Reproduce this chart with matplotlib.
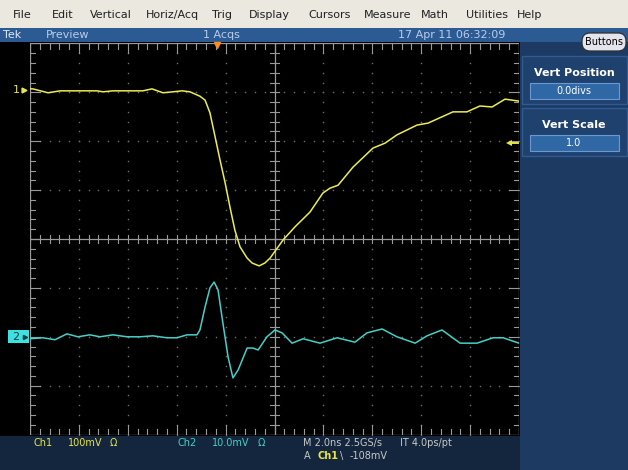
import numpy as np
import matplotlib.pyplot as plt
from matplotlib.patches import Rectangle, FancyBboxPatch

# Ch1 (yellow) – time in ns from left edge of screen, level in mV
ch1_t = [0.0, 0.12, 0.74, 1.23, 2.74, 2.99, 3.39, 4.62, 4.99, 5.44, 5.85, 6.22,
         6.54, 6.95, 7.16, 7.36, 7.57, 7.77, 7.98, 8.18, 8.38, 8.59, 8.88, 9.08,
         9.37, 9.61, 9.82, 10.35, 10.84, 11.45, 11.98, 12.27, 12.60, 13.21, 14.03,
         14.52, 15.01, 15.83, 16.28, 17.30, 17.87, 18.40, 18.90, 19.43, 20.0]
ch1_mv = [2, 2, -6, -2, -2, -4, -2, -2, 2, -6, -4, -2,
          -4, -13, -21, -47, -96, -143, -190, -240, -287, -321, -344, -354,
          -360, -354, -344, -307, -280, -250, -211, -201, -195, -158, -119,
          -109, -92, -72, -68, -45, -45, -33, -35, -19, -23]

# Ch2 (cyan)
ch2_t = [0.0, 0.53, 1.02, 1.51, 1.96, 2.45, 2.86, 3.39, 3.97, 4.50, 5.03, 5.60,
         6.01, 6.42, 6.83, 6.95, 7.16, 7.36, 7.53, 7.69, 7.89, 8.10, 8.30, 8.51,
         8.88, 9.12, 9.33, 9.69, 10.02, 10.31, 10.72, 11.17, 11.86, 12.56, 13.29,
         13.78, 14.40, 15.01, 15.75, 16.24, 16.85, 17.59, 18.28, 18.94, 19.35, 20.0]
ch2_mv = [-0.4, -0.2, -0.6, 0.6, 0.0, 0.4, 0.0, 0.4, 0.0, 0.0, 0.2, -0.2,
          -0.2, 0.4, 0.4, 1.4, 6.1, 10.0, 11.2, 9.6, 2.8, -4.1, -8.4, -6.8,
          -2.3, -2.3, -2.7, 0.0, 1.4, 0.8, -1.3, -0.4, -1.3, -0.2, -1.1,
          0.8, 1.6, 0.0, -1.3, 0.2, 1.4, -1.3, -1.3, -0.2, -0.2, -1.3]

# scope settings
time_per_div = 2.0       # ns
ch1_scale = 100.0        # mV/div
ch2_scale = 10.0         # mV/div
ch1_pos = 3.05           # divs
ch2_pos = -2.0           # divs
trig_level = -108.0      # mV on Ch1
trig_time = 7.65         # ns

menu_items = ["File", "Edit", "Vertical", "Horiz/Acq", "Trig", "Display",
              "Cursors", "Measure", "Math", "Utilities", "Help"]
menu_x = [13, 52, 90, 146, 212, 249, 308, 364, 421, 466, 517]

W, H = 628, 470
fig = plt.figure(figsize=(W / 100, H / 100), dpi=100)

# ---- window chrome in pixel coords
bg = fig.add_axes([0, 0, 1, 1])
bg.set_xlim(0, W)
bg.set_ylim(H, 0)
bg.axis("off")

def rect(x0, y0, x1, y1, fc, ec="none", lw=0):
    bg.add_patch(Rectangle((x0, y0), x1 - x0, y1 - y0, facecolor=fc,
                           edgecolor=ec, linewidth=lw))

rect(0, 0, W, 28, "#ebe8e0")
rect(0, 28, W, 42, "#2c5b93")
rect(0, 42, 520, 436, "black")
rect(0, 436, 520, H, "#14263d")
rect(520, 42, W, H, "#1c3a62")

for name, x in zip(menu_items, menu_x):
    bg.text(x, 15, name, fontsize=8, color="#202020", va="center",
            family="DejaVu Sans")

bar_col = "#b8cde8"
bg.text(3, 35, "Tek", fontsize=8, color="#e0e8f4", va="center")
bg.text(46, 35, "Preview", fontsize=8, color=bar_col, va="center")
bg.text(203, 35, "1 Acqs", fontsize=8, color=bar_col, va="center")
bg.text(398, 35, "17 Apr 11 06:32:09", fontsize=8, color=bar_col, va="center")

# buttons / side panel
bg.add_patch(FancyBboxPatch((582, 33), 44, 18, boxstyle="round,pad=0,rounding_size=8",
                            facecolor="#e4e4ec", edgecolor="#303030", linewidth=0.9))
bg.text(604, 42, "Buttons", fontsize=7, color="black", ha="center", va="center")

for y0, label, value in [(56, "Vert Position", "0.0divs"), (108, "Vert Scale", "1.0")]:
    rect(522, y0, 627, y0 + 48, "#1f416e", "#2f5a92", 1)
    bg.text(574, y0 + 17, label, fontsize=8, fontweight="bold", color="white",
            ha="center", va="center")
    rect(530, y0 + 27, 619, y0 + 43, "#3068a6", "#6a98d0", 0.8)
    bg.text(574, y0 + 35, value, fontsize=7, color="white", ha="center", va="center")

# bottom readouts
yel = "#e6e648"
cya = "#44d0c8"
gry = "#c8c8c8"
bg.text(33, 443, "Ch1", fontsize=7, color=yel, va="center")
bg.text(68, 443, "100mV", fontsize=7, color=yel, va="center")
bg.text(110, 443, "Ω", fontsize=7, color=yel, va="center")
bg.text(177, 443, "Ch2", fontsize=7, color=cya, va="center")
bg.text(212, 443, "10.0mV", fontsize=7, color=cya, va="center")
bg.text(258, 443, "Ω", fontsize=7, color=cya, va="center")
bg.text(303, 443, "M 2.0ns 2.5GS/s", fontsize=7, color=gry, va="center")
bg.text(400, 443, "IT 4.0ps/pt", fontsize=7, color=gry, va="center")
bg.text(304, 456, "A", fontsize=7, color=gry, va="center")
bg.text(317, 456, "Ch1", fontsize=7, color=yel, fontweight="bold", va="center")
bg.text(340, 456, "\\", fontsize=7, color=gry, va="center")
bg.text(350, 456, "-108mV", fontsize=7, color=gry, va="center")

# ---- graticule: 10 x 8 divisions
gl, gr, gt, gb = 30, 519, 43.4, 434.6
ax = fig.add_axes([gl / W, (H - gb) / H, (gr - gl) / W, (gb - gt) / H])
ax.set_xlim(0, 10)
ax.set_ylim(-4, 4)
ax.axis("off")
ax.patch.set_visible(False)

dot_c = "#6e6e6e"
line_c = "#9a9a9a"
fine = np.arange(0, 10.01, 0.2)
fine_y = np.arange(-4, 4.01, 0.2)
for gx in range(1, 10):
    if gx != 5:
        ax.plot(np.full(len(fine_y), gx), fine_y, ls="none", marker="s",
                ms=1, mew=0, color=dot_c)
for gy in range(-3, 4):
    if gy != 0:
        ax.plot(fine, np.full(len(fine), gy), ls="none", marker="s",
                ms=1, mew=0, color=dot_c)

# center cross with ticks
ax.plot([0, 10], [0, 0], color=line_c, lw=0.9)
ax.plot([5, 5], [-4, 4], color=line_c, lw=0.9)
tk = 0.09
for x in fine:
    ax.plot([x, x], [-tk, tk], color=line_c, lw=0.8)
for y in fine_y:
    ax.plot([5 - tk, 5 + tk], [y, y], color=line_c, lw=0.8)

# frame with inward ticks
ax.plot([0, 10, 10, 0, 0], [-4, -4, 4, 4, -4], color=line_c, lw=0.9)
for x in fine:
    ln = 0.2 if abs(x - round(x)) < 1e-6 else 0.11
    ax.plot([x, x], [-4, -4 + ln], color=line_c, lw=0.8)
    ax.plot([x, x], [4, 4 - ln], color=line_c, lw=0.8)
for y in fine_y:
    ln = 0.2 if abs(y - round(y)) < 1e-6 else 0.11
    ax.plot([0, ln], [y, y], color=line_c, lw=0.8)
    ax.plot([10, 10 - ln], [y, y], color=line_c, lw=0.8)

# traces
x1 = np.array(ch1_t) / time_per_div
y1 = ch1_pos + np.array(ch1_mv) / ch1_scale
x2 = np.array(ch2_t) / time_per_div
y2 = ch2_pos + np.array(ch2_mv) / ch2_scale
ax.plot(x2, y2, color=cya, lw=1.1, solid_joinstyle="round")
ax.plot(x1, y1, color="#ecec50", lw=1.1, solid_joinstyle="round")

# channel ground markers
ax.text(-0.27, ch1_pos, "1", color=yel, fontsize=8, ha="center", va="center",
        clip_on=False)
ax.plot([-0.13], [ch1_pos], marker=">", ms=3.5, color=yel, clip_on=False)
ax.add_patch(Rectangle((-0.45, ch2_pos - 0.13), 0.43, 0.26, facecolor="#3fe0e0",
                       edgecolor="none", clip_on=False))
ax.text(-0.3, ch2_pos, "2", color="#104040", fontsize=8, ha="center", va="center",
        clip_on=False)
ax.plot([-0.1], [ch2_pos], marker=">", ms=3, color="#104040", clip_on=False)

# trigger level and position
ty = ch1_pos + trig_level / ch1_scale
ax.plot([9.8, 9.98], [ty, ty], color=yel, lw=1.4)
ax.plot([9.8], [ty], marker="<", ms=5, color=yel, mew=0)
ax.plot([trig_time / time_per_div], [3.96], marker="v", ms=5, color="#ff8c1a",
        clip_on=False)

fig.savefig("out.png", dpi=100)
